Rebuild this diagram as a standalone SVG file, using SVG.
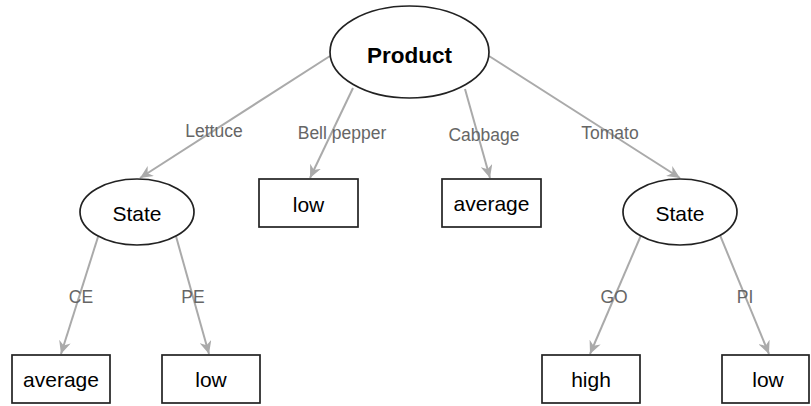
<svg xmlns="http://www.w3.org/2000/svg" width="811" height="406" viewBox="0 0 811 406">
<style>
.node ellipse, .node rect { fill: #ffffff; stroke: #222222; stroke-width: 1.7; }
.node text { font-family: "Liberation Sans", Arial, sans-serif; font-size: 21px; fill: #000000; text-anchor: middle; }
.node text.root { font-weight: bold; font-size: 22.5px; }
.edge line { stroke: #aaaaaa; stroke-width: 2; fill: none; marker-end: url(#arrow); }
.edge text { font-family: "Liberation Sans", Arial, sans-serif; font-size: 17.5px; fill: #666666; text-anchor: middle; }
</style>
<defs>
<marker id="arrow" markerUnits="userSpaceOnUse" markerWidth="14" markerHeight="12" refX="13" refY="6" orient="auto" viewBox="0 0 14 12">
<path d="M0,0 L13,6 L0,12 L4,6 z" fill="#aaaaaa"/>
</marker>
</defs>
<rect width="811" height="406" fill="#ffffff"/>
<g id="connectors">
<g class="edge" id="e-lettuce"><line x1="330" y1="56" x2="140" y2="178"/><text x="214" y="137">Lettuce</text></g>
<g class="edge" id="e-bellpepper"><line x1="353" y1="88" x2="310" y2="178"/><text x="342" y="139">Bell pepper</text></g>
<g class="edge" id="e-cabbage"><line x1="465" y1="89" x2="490" y2="178"/><text x="484" y="141">Cabbage</text></g>
<g class="edge" id="e-tomato"><line x1="489" y1="56" x2="680" y2="178"/><text x="610" y="139">Tomato</text></g>
<g class="edge" id="e-ce"><line x1="98.2" y1="236.3" x2="61" y2="354"/><text x="81" y="303">CE</text></g>
<g class="edge" id="e-pe"><line x1="176" y1="236.3" x2="209" y2="354"/><text x="193" y="303">PE</text></g>
<g class="edge" id="e-go"><line x1="640.7" y1="236" x2="590" y2="354"/><text x="614" y="303">GO</text></g>
<g class="edge" id="e-pi"><line x1="720.1" y1="235.4" x2="769" y2="354"/><text x="745" y="303">PI</text></g>
</g>
<g class="node" id="n-product"><ellipse cx="409.5" cy="52" rx="79.5" ry="46"/><text class="root" x="409.5" y="63">Product</text></g>
<g class="node" id="n-state-left"><ellipse cx="137" cy="212" rx="57" ry="33"/><text x="137" y="221">State</text></g>
<g class="node" id="n-low-1"><rect x="259" y="179" width="99" height="48"/><text x="308.5" y="212">low</text></g>
<g class="node" id="n-average-1"><rect x="442" y="179" width="99" height="48"/><text x="491.5" y="211">average</text></g>
<g class="node" id="n-state-right"><ellipse cx="680" cy="212" rx="57" ry="33"/><text x="680" y="221">State</text></g>
<g class="node" id="n-average-2"><rect x="12" y="355" width="98" height="48"/><text x="61" y="387">average</text></g>
<g class="node" id="n-low-2"><rect x="162" y="355" width="98" height="48"/><text x="211" y="387">low</text></g>
<g class="node" id="n-high"><rect x="542" y="355" width="98" height="48"/><text x="591" y="387">high</text></g>
<g class="node" id="n-low-3"><rect x="722" y="355" width="87" height="48"/><text x="768" y="387">low</text></g>
</svg>
